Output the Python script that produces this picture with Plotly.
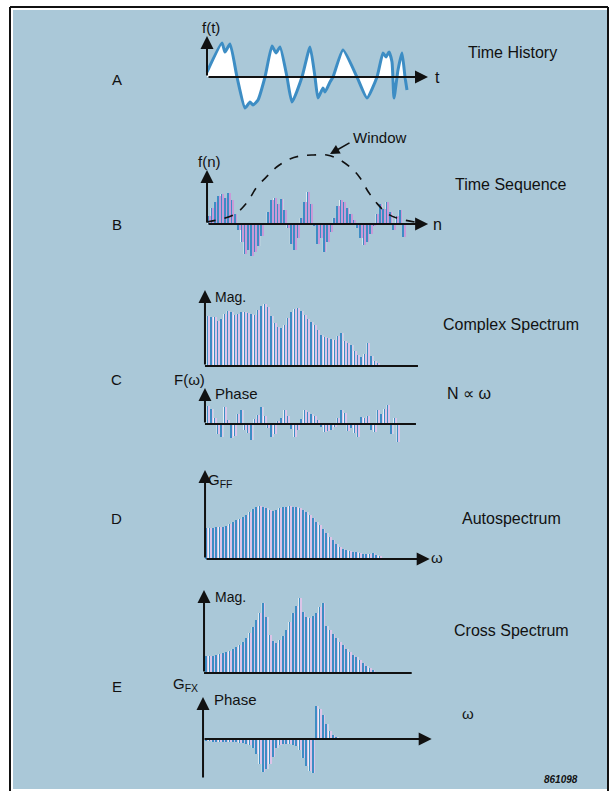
import plotly.graph_objects as go

W, H = 613, 791

# ---------------- data ----------------
# A: time history f(t)
hist_t = [0, 15, 18, 23, 30, 38, 43, 46, 51, 58, 65, 69, 73, 80, 85, 95, 103, 108, 111, 116,
          118, 123, 126, 136, 150, 160, 170, 176, 179, 182, 185, 187, 191, 195, 198, 200]
hist_f = [5, 34, 25, 33, 0, -31, -25, -28, -23, 0, 31, 24, 30, 0, -25, 0, 30, 0, -21, -11,
          -15, -5, 0, 27, 0, -21, 0, 24, 20, 25, 15, -21, 7, 24, 0, -13]

# B: windowed time sequence f(n)
seq_vals = [8, 16, 22, 28, 30, 26, 31, 24, 10, -6,
            -18, -30, -26, -32, -28, -22, -12, 0, 12, 24,
            26, 20, 25, 14, -4, -20, -26, -14, 6, 22,
            32, 20, -2, -20, -14, -28, -18, -8, 6, 18,
            24, 22, 16, 10, 4, -4, -14, -21, -18, -10,
            -2, 10, 20, 15, 22, 12, -6, 8, 14, -13]
win_n = [-0.7, 7.4, 11.4, 14.5, 18.0, 20.5, 24.5, 27.6, 31.6, 35.7, 39.7, 43.7, 45.8, 48.3, 50.8, 53.8, 56.9, 63.9]
win_v = [2, 9, 21, 37, 49, 57, 65, 68, 69, 69, 64, 54, 46, 32, 21, 11, 6, 1]

# C: complex spectrum magnitude and phase
cmag_vals = [50, 49, 49, 45, 47, 52, 55, 54, 51, 52, 54, 54, 53, 52, 51, 56, 60, 62, 59, 50,
             43, 39, 38, 41, 48, 54, 57, 58, 55, 51, 47, 44, 41, 36, 31, 29, 28, 27, 26, 30,
             33, 25, 23, 21, 15, 11, 9, 12, 23, 10, 5, 3]
cphase_vals = [18, 15, 6, -10, -13, 17, 4, -14, -12, 10, 14, -6, -9, -16, 5, 9, 17, 8, -4, -13,
               -10, 3, 6, 14, 8, -5, -13, -6, 5, 14, 12, 10, 8, 4, -3, -8, -7, -6, -3, 6,
               14, 11, -7, -4, -9, -13, 7, 6, 8, -6, -8, 14, 10, 15, 19, -10, 6, -18]

# D: autospectrum G_FF
auto_vals = [31, 31, 31, 32, 32, 32, 33, 35, 37, 39, 40, 42, 44, 47, 50, 52, 53, 52, 51, 49,
             48, 49, 51, 52, 52, 53, 52, 52, 51, 49, 47, 44, 41, 37, 34, 30, 26, 22, 19, 15,
             12, 10, 9, 8, 7, 7, 6, 5, 5, 5, 6, 4, 3]

# E: cross spectrum magnitude and phase
xmag_vals = [17, 17, 17, 18, 19, 20, 21, 22, 24, 26, 28, 31, 35, 40, 46, 53, 60, 70, 56, 38,
             32, 30, 33, 37, 43, 51, 60, 67, 75, 61, 56, 55, 57, 60, 66, 70, 47, 43, 39, 35,
             31, 28, 24, 21, 18, 16, 13, 10, 7, 5, 3, 1]
xphase_vals = [-2, -2, -3, -3, -3, -3, -3, -3, -3, -3, -4, -4, -5, -6, -9, -15, -25, -33, -30, -25,
               -18, -9, -6, -5, -5, -5, -6, -7, -11, -19, -27, -32, -34, 33, 30, 24, 15, 8, 4, 2, 1]

# ---------------- styling ----------------
BG = "#aac8d8"
BLUE = "#3d8dc4"
PINK = "#dcc4e8"
PINK_B = "#c99ad8"
INK = "#111111"
FONT = "Liberation Sans, Arial, Helvetica, sans-serif"

fig = go.Figure()


def sfx(i):
    return "" if i == 1 else str(i)


def add_panel(i, box, x0px, sx, y0px, sy=1.0):
    left, top, right, bottom = box
    s = sfx(i)
    fig.update_layout(**{
        "xaxis" + s: dict(domain=[left / W, right / W],
                          range=[(left - x0px) / sx, (right - x0px) / sx],
                          visible=False, fixedrange=True, anchor="y" + s),
        "yaxis" + s: dict(domain=[1 - bottom / H, 1 - top / H],
                          range=[(y0px - bottom) / sy, (y0px - top) / sy],
                          visible=False, fixedrange=True, anchor="x" + s),
    })


annotations = []
shapes = []


def arrow(i, xt, yt, xh, yh, head=True):
    s = sfx(i)
    if head:
        annotations.append(dict(x=xh, y=yh, ax=xt, ay=yt, xref="x" + s, yref="y" + s,
                                axref="x" + s, ayref="y" + s, text="", showarrow=True,
                                arrowhead=2, arrowsize=1.3, arrowwidth=2, arrowcolor=INK,
                                standoff=0, startstandoff=0))
    else:
        shapes.append(dict(type="line", xref="x" + s, yref="y" + s, x0=xt, y0=yt, x1=xh, y1=yh,
                           line=dict(color=INK, width=2)))


def stems(i, values, pink=PINK, pink_w=0.12, blue_w=0.33):
    s = sfx(i)
    k = list(range(len(values)))
    common = dict(xaxis="x" + s, yaxis="y" + s, showlegend=False, hoverinfo="skip")
    fig.add_bar(x=k, y=values, width=1.0, offset=-0.5,
                marker=dict(color="white", line=dict(width=0)), **common)
    fig.add_bar(x=k, y=values, width=blue_w, offset=-0.28,
                marker=dict(color=BLUE, line=dict(width=0)), **common)
    fig.add_bar(x=k, y=values, width=pink_w, offset=0.2,
                marker=dict(color=pink, line=dict(width=0)), **common)


SX = 10 / 3

# A: time history
add_panel(1, (195, 15, 450, 118), 207, 1.0, 77)
fig.add_scatter(x=hist_t, y=hist_f, mode="lines", line=dict(color=BLUE, width=3, shape="spline", smoothing=0.5),
                fill="tozeroy", fillcolor="white", xaxis="x", yaxis="y", showlegend=False, hoverinfo="skip")
arrow(1, 0, 0, 0, 41)
arrow(1, 0, 0, 221, 0)

# B: time sequence
add_panel(2, (195, 120, 450, 268), 209, 3.3, 224)
stems(2, seq_vals, pink=PINK_B, pink_w=0.22, blue_w=0.3)
fig.add_scatter(x=win_n, y=win_v, mode="lines", line=dict(color=INK, width=1.6, dash="dash", shape="spline"),
                xaxis="x2", yaxis="y2", showlegend=False, hoverinfo="skip")
arrow(2, -0.6, 0, -0.6, 54)
arrow(2, -0.6, 0, 66.4, 0)

# C: complex spectrum magnitude
add_panel(3, (195, 285, 430, 372), 208.3, SX, 366)
stems(3, cmag_vals)
arrow(3, -1, 0, -1, 76)
arrow(3, -1, 0, 62.9, 0, head=False)

# C: phase
add_panel(4, (195, 380, 430, 452), 208.3, SX, 424)
stems(4, cphase_vals)
arrow(4, -1, 0, -1, 36)
arrow(4, -1, 0, 62.3, 0, head=False)

# D: autospectrum
add_panel(5, (195, 465, 450, 566), 206.7, SX, 559)
stems(5, auto_vals)
arrow(5, -0.5, 0, -0.5, 89)
arrow(5, -0.5, 0, 66.9, 0)

# E: cross spectrum magnitude
add_panel(6, (195, 585, 430, 680), 206.7, SX, 673)
stems(6, xmag_vals)
arrow(6, -0.8, 0, -0.8, 83)
arrow(6, -0.8, 0, 61.5, 0, head=False)

# E: phase
add_panel(7, (195, 690, 450, 785), 206.7, SX, 739)
stems(7, xphase_vals)
arrow(7, -1.1, -40, -1.1, 42)
arrow(7, -1.1, 0, 67.5, 0)


def label(px, py, text, size=15, xanchor="center", italic=False):
    annotations.append(dict(x=px / W, y=1 - py / H, xref="paper", yref="paper", text=text,
                            showarrow=False, xanchor=xanchor, yanchor="middle",
                            font=dict(family=FONT, size=size, color=INK,
                                      style="italic" if italic else "normal")))


# left letters
for lt, py in [("A", 79), ("B", 225), ("C", 380), ("D", 518), ("E", 686)]:
    label(117, py, lt, 15)

# right titles
label(512, 52, "Time History", 16)
label(511, 184, "Time Sequence", 16)
label(511, 324, "Complex Spectrum", 16)
label(469, 393, "N \u221d \u03c9", 16)
label(511, 518, "Autospectrum", 16)
label(511, 630, "Cross Spectrum", 16)
label(468, 713, "\u03c9", 15)

# axis labels
label(211, 27, "f(t)", 15)
label(437, 77, "t", 16)
label(209, 161, "f(n)", 15)
label(437, 225, "n", 16)
label(380, 138, "Window", 15)
label(213, 297, "Mag.", 14, "left")
label(172, 380, "F(\u03c9)", 15, "left")
label(213, 393, "Phase", 15, "left")
label(206, 480, "G<sub>FF</sub>", 15, "left")
label(437, 557, "\u03c9", 15)
label(213, 597, "Mag.", 14, "left")
label(171, 684, "G<sub>FX</sub>", 15, "left")
label(212, 699, "Phase", 15, "left")
label(561, 779, "<b>861098</b>", 10, italic=True)

# arrow pointing to the window curve
annotations.append(dict(x=330 / W, y=1 - 154 / H, xref="paper", yref="paper", text="",
                        showarrow=True, ax=21, ay=-12, arrowhead=2, arrowsize=1.2,
                        arrowwidth=1.6, arrowcolor=INK, standoff=0))

# background panel and frame
shapes.insert(0, dict(type="rect", xref="paper", yref="paper", x0=13 / W, x1=607 / W,
                      y0=1 - 789 / H, y1=1 - 10 / H, fillcolor=BG, line=dict(width=0), layer="below"))
for x0, y0, x1, y1 in [(10, 7, 10, 791), (10, 7, 608, 7), (608, 7, 608, 791)]:
    shapes.append(dict(type="line", xref="paper", yref="paper", x0=x0 / W, x1=x1 / W,
                       y0=1 - y0 / H, y1=1 - y1 / H, line=dict(color=INK, width=2), layer="below"))

fig.update_layout(width=W, height=H, margin=dict(l=0, r=0, t=0, b=0),
                  paper_bgcolor="white", plot_bgcolor="rgba(0,0,0,0)",
                  barmode="overlay", showlegend=False,
                  annotations=annotations, shapes=shapes,
                  font=dict(family=FONT, color=INK))

fig.write_html("out.html", config={"displayModeBar": False},
               post_script="document.body.style.margin='0';document.body.style.overflow='hidden';")
